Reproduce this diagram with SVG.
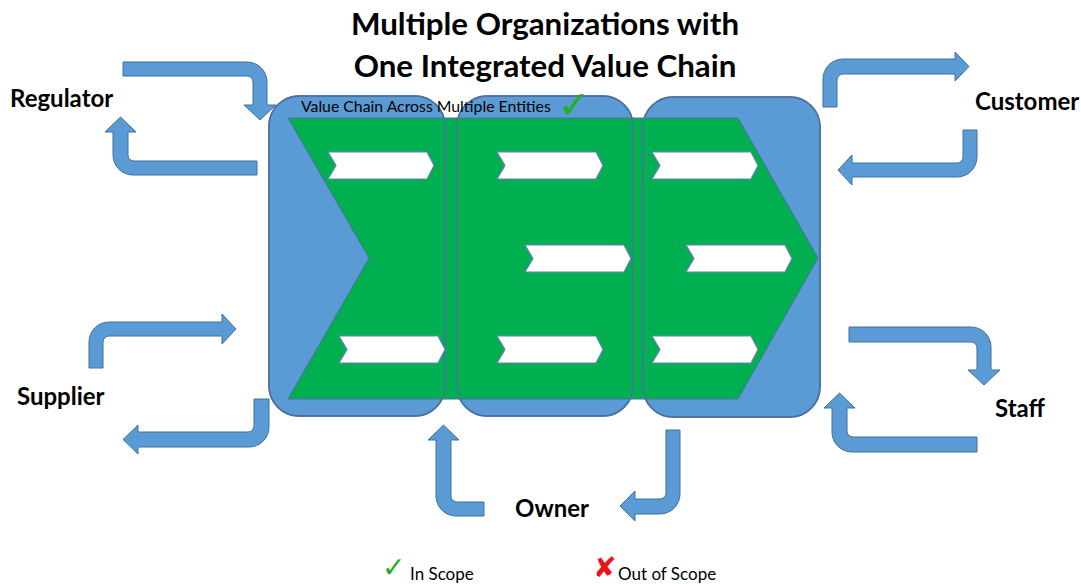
<svg xmlns="http://www.w3.org/2000/svg" xmlns:xlink="http://www.w3.org/1999/xlink" width="1081" height="584" viewBox="0 0 1081 584">
<style>
.arrow{fill:#5b9bd5;stroke:#41719c;stroke-width:1}
.box{fill:#5b9bd5;stroke:#41719c;stroke-width:1.5}
.boxline{fill:none;stroke:#4f6fa3;stroke-width:1.5}
.green{fill:#00b050;stroke:#4f6fa3;stroke-width:1}
.chev{fill:#ffffff;stroke:#6a82b8;stroke-width:1.2}
.title{font-family:Lato,"Liberation Sans",sans-serif;font-weight:bold;font-size:31.3px;fill:#000;text-anchor:middle}
.lbl{font-family:Lato,"Liberation Sans",sans-serif;font-weight:bold;font-size:24px;fill:#000}
.small{font-family:Lato,"Liberation Sans",sans-serif;font-size:15.8px;fill:#000}
.legend{font-family:Lato,"Liberation Sans",sans-serif;font-size:17px;fill:#000}
.check{font-family:"DejaVu Sans",sans-serif;fill:#1fb11f}
.cross{font-family:"DejaVu Sans",sans-serif;fill:#e8141b}
</style>
<defs>
<path id="chev" d="M0,0 H99 L106,13.5 L99,27 H0 L8,13.5 Z"/>
</defs>
<rect width="1081" height="584" fill="#ffffff"/>
<g id="title">
<text class="title" x="545" y="35">Multiple Organizations with</text>
<text class="title" x="545" y="77">One Integrated Value Chain</text>
</g>
<g id="connectors">
<path class="arrow" d="M123,62 H247 A20,20 0 0 1 267,82 V105 H276 L260,120 L244,105 H253 V82 A6,6 0 0 0 247,76 H123 Z"/>
<path class="arrow" d="M257,161 H134 A6,6 0 0 1 128,155 V132 H136 L120.5,117 L105,132 H113 V155 A20,20 0 0 0 133,175 H257 Z"/>
<path class="arrow" d="M89,368 V342 A20,20 0 0 1 109,322 H222 V314 L236,329 L222,344 V336 H109 A6,6 0 0 0 103,342 V368 Z"/>
<path class="arrow" d="M254,399 H269 V427 A20,20 0 0 1 249,447 H138 V454 L123,439.5 L138,425 V432 H248 A6,6 0 0 0 254,426 Z"/>
<path class="arrow" d="M823,107 V79 A20,20 0 0 1 843,59 H955 V52 L969,66.5 L955,81 V74 H843 A6,6 0 0 0 837,80 V107 Z"/>
<path class="arrow" d="M963,130 H977 V157 A20,20 0 0 1 957,177 H852 V185 L838,170 L852,155 V163 H957 A6,6 0 0 0 963,157 Z"/>
<path class="arrow" d="M849,327 H971 A20,20 0 0 1 991,347 V370 H1000 L984,385 L968,370 H977 V348 A6,6 0 0 0 971,342 H849 Z"/>
<path class="arrow" d="M977,437 H853 A6,6 0 0 1 847,431 V408 H855 L839.5,393 L824,408 H832 V432 A20,20 0 0 0 852,452 H977 Z"/>
<path class="arrow" d="M484,502 H457 A6,6 0 0 1 451,496 V440 H459 L443.5,425 L428,440 H436 V496 A20,20 0 0 0 456,516 H484 Z"/>
<path class="arrow" d="M666,430 H680 V494 A20,20 0 0 1 660,514 H635 V521 L620,506 L635,491 V499 H660 A6,6 0 0 0 666,493 Z"/>
</g>
<g id="entities">
<rect class="box" x="269" y="96" width="176" height="320" rx="30"/>
<rect class="box" x="457" y="96" width="176" height="320" rx="30"/>
<rect class="box" x="643" y="97" width="177" height="320" rx="30"/>
</g>
<g id="value-chain">
<polygon class="green" points="288,118 738,118 818,258 738,399 288,399 369,258"/>
<rect class="boxline" x="269" y="96" width="176" height="320" rx="30"/>
<rect class="boxline" x="457" y="96" width="176" height="320" rx="30"/>
<rect class="boxline" x="643" y="97" width="177" height="320" rx="30"/>
</g>
<g id="activities">
<use xlink:href="#chev" class="chev" x="328" y="152"/>
<use xlink:href="#chev" class="chev" x="497" y="152"/>
<use xlink:href="#chev" class="chev" x="652" y="152"/>
<use xlink:href="#chev" class="chev" x="525" y="245"/>
<use xlink:href="#chev" class="chev" x="686" y="245"/>
<use xlink:href="#chev" class="chev" x="339" y="336"/>
<use xlink:href="#chev" class="chev" x="497" y="336"/>
<use xlink:href="#chev" class="chev" x="652" y="336"/>
</g>
<g id="chain-label">
<text class="small" x="301" y="112">Value Chain Across Multiple Entities</text>
<text class="check" x="558" y="118" font-size="38">✓</text>
</g>
<g id="regulator"><text class="lbl" x="10" y="107">Regulator</text></g>
<g id="customer"><text class="lbl" x="975" y="110">Customer</text></g>
<g id="supplier"><text class="lbl" x="17" y="405">Supplier</text></g>
<g id="staff"><text class="lbl" x="995" y="417">Staff</text></g>
<g id="owner"><text class="lbl" x="515" y="517">Owner</text></g>
<g id="legend">
<text class="check" x="382" y="577" font-size="28">✓</text>
<text class="legend" x="410" y="580">In Scope</text>
<text class="cross" x="593" y="577" font-size="28">✘</text>
<text class="legend" x="618" y="580">Out of Scope</text>
</g>
</svg>
